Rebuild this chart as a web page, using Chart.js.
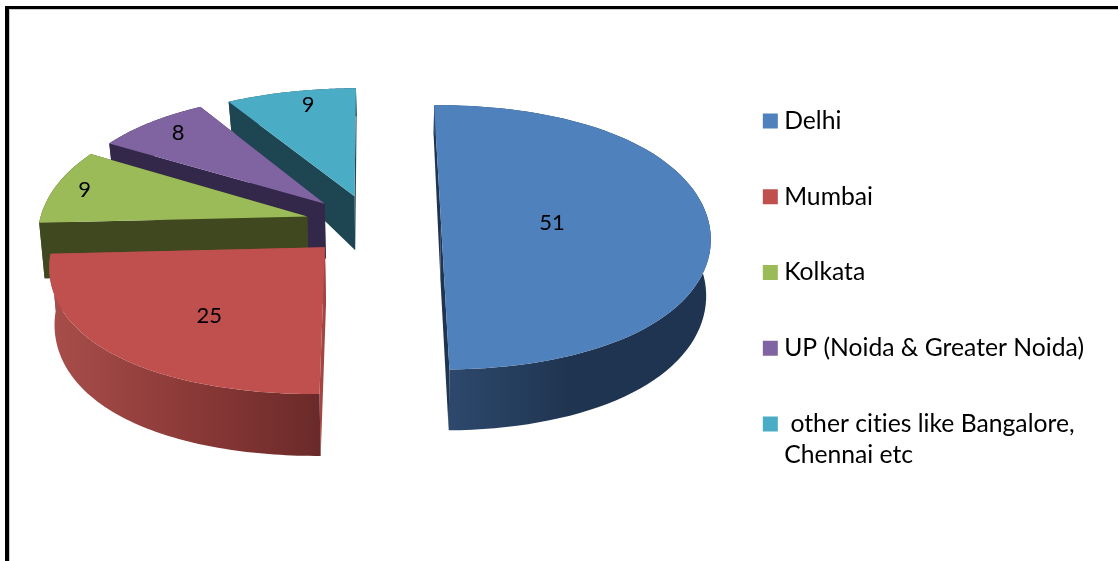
<!DOCTYPE html>
<html><head><meta charset="utf-8">
<script src="https://cdn.jsdelivr.net/npm/chart.js@4"></script>
<style>
html,body{margin:0;padding:0;background:#fff;overflow:hidden;width:1118px;height:561px}
#frame{position:absolute;left:5px;top:6px;width:1200px;height:700px;border-left:4px solid #000;border-top:3px solid #000;box-shadow:inset 1px 1px 0 #ccc}
canvas{position:absolute;left:0;top:0}
</style></head><body>
<div id="frame"></div>
<canvas id="c" width="1118" height="561"></canvas>
<script>
const categories = ['Delhi','Mumbai','Kolkata','UP (Noida & Greater Noida)',[' other cities like Bangalore,','Chennai etc']];
const values = [51,25,9,8,9];
const topColors = ['#4f81bd','#c0504d','#9bbb59','#8064a2','#4bacc6'];
const wallColors = [['#2f4b70','#1f3450','#1f3450'],['#a84e4b','#8c3a38','#6a2a29'],['#40481f','#40481f','#40481f'],['#34284a','#34284a','#34284a'],['#1e4652','#1e4652','#1e4652']];
const cutColors = ['#1f3450','#a34543','#40481f','#34284a','#1e4652'];
const labelRadius = [0.415,0.60,0.885,0.85,0.85];
const labelTurn = [0,-3,0,1,2.5];
const FONT = 'Lato, Carlito, sans-serif';
const R = 268, EXPLODE_X = 68, EXPLODE_BACK = 55, EXPLODE_FRONT = 63;
const PIE_X = 373, PIE_Y = 223, VX = 405, KH = 0.52, PA = 0.118, PB = 0.067, PX = 0.106;
const depthStops = [[99,28],[200,55],[400,62]];
function depth(y){
  if(y<=depthStops[0][0]) return depthStops[0][1];
  for(let i=1;i<depthStops.length;i++){
    const a=depthStops[i-1],b=depthStops[i];
    if(y<=b[0]) return a[1]+(b[1]-a[1])*(y-a[0])/(b[0]-a[0]);
  }
  return depthStops[2][1];
}
function proj(el,theta,f){
  const m=(el.startAngle+el.endAngle)/2, sm=Math.sin(m);
  const u=Math.cos(theta)*f*el.outerRadius+Math.cos(m)*EXPLODE_X;
  const v=Math.sin(theta)*f*el.outerRadius+sm*(sm>0?EXPLODE_FRONT:EXPLODE_BACK);
  const V=v/el.outerRadius, w=1-PA*V+PB*V*V, wx=1-PX*V;
  return {x:VX+(PIE_X+u-VX)/wx, y:PIE_Y+KH*v/w};
}
const drop=p=>({x:p.x+(400-p.x)*0.015,y:p.y+depth(p.y)});
function rim(el){
  const pts=[],N=80;
  for(let i=0;i<=N;i++) pts.push(proj(el,el.startAngle+(el.endAngle-el.startAngle)*i/N,1));
  return pts;
}
function poly(ctx,pts,fill){
  ctx.beginPath();pts.forEach((p,i)=>i?ctx.lineTo(p.x,p.y):ctx.moveTo(p.x,p.y));ctx.closePath();
  ctx.fillStyle=fill;ctx.fill();
}
const pie3d={
  id:'pie3d',
  beforeDraw(chart){chart.ctx.textRendering='optimizeSpeed';},
  beforeDatasetDraw(chart,args){
    const ctx=chart.ctx, arcs=chart.getDatasetMeta(0).data;
    for(let i=arcs.length-1;i>=0;i--){
      const el=arcs[i], apex=proj(el,0,0), pts=rim(el), low=pts.map(drop);
      const xs=low.concat(pts).map(p=>p.x), x0=Math.min(...xs), x1=Math.max(...xs);
      const g=ctx.createLinearGradient(x0,0,x1,0);
      wallColors[i].forEach((c,k)=>g.addColorStop(k/(wallColors[i].length-1),c));
      const a=pts[0],b=pts[pts.length-1];
      poly(ctx,[apex,a,drop(a),drop(apex)],cutColors[i]);
      poly(ctx,[apex,b,drop(b),drop(apex)],cutColors[i]);
      poly(ctx,pts.concat(low.slice().reverse()),g);
      poly(ctx,[apex].concat(pts),el.options.backgroundColor);
    }
    return false;
  },
  afterDatasetsDraw(chart){
    const ctx=chart.ctx, arcs=chart.getDatasetMeta(0).data;
    ctx.save();ctx.fillStyle='#000';ctx.font='22px '+FONT;ctx.textAlign='center';ctx.textBaseline='middle';
    arcs.forEach((el,i)=>{
      const m=(el.startAngle+el.endAngle)/2+labelTurn[i]*Math.PI/180,p=proj(el,m,labelRadius[i]);
      ctx.fillText(String(values[i]),p.x,p.y+1);
    });
    ctx.restore();
  }
};
new Chart(document.getElementById('c'),{
  type:'pie',
  data:{labels:categories,datasets:[{data:values,backgroundColor:topColors,borderWidth:0}]},
  options:{
    responsive:false,animation:false,radius:R,rotation:-0.8,
    layout:{padding:{top:21,right:24,left:0,bottom:0}},
    plugins:{
      tooltip:{enabled:false},
      legend:{position:'right',labels:{
        boxWidth:3,boxHeight:3,padding:51,color:'#000',font:{family:FONT,size:24.7,lineHeight:1.25},
        generateLabels(chart){
          return Chart.overrides.pie.plugins.legend.labels.generateLabels(chart).map(it=>({...it,strokeStyle:it.fillStyle,lineWidth:12}));
        }
      }}
    }
  },
  plugins:[pie3d]
});
</script>
</body></html>
